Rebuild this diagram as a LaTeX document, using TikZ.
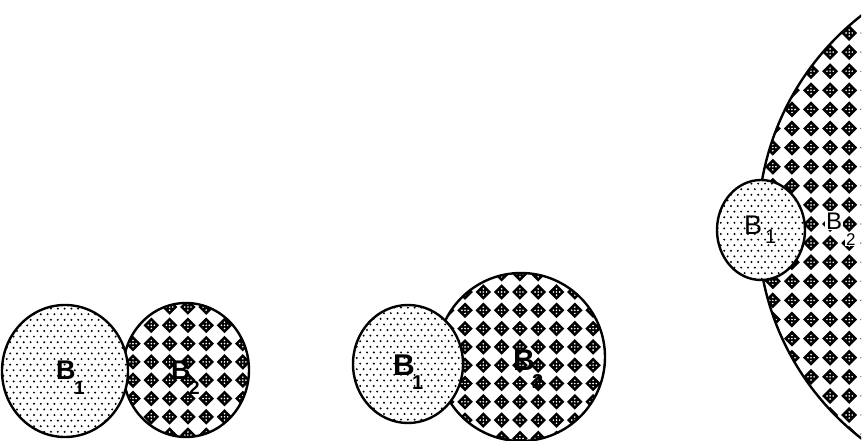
\documentclass[tikz,border=0pt]{standalone}
\usepackage{fontspec}
\setmainfont{Liberation Sans}
\newcommand\dotgrid[4]{%
  \foreach \r in {0,...,#4}{\foreach \c in {0,...,#3}{%
    \fill ({#1+\c*6.8+mod(\r,2)*3.4},{#2+\r*5.6}) circle (1.1);}}}
\newcommand\diagrid[6]{%
  \foreach \r in {0,...,#4}{\foreach \c in {0,...,#3}{%
    \begin{scope}[shift={({#1+\c*#5},{#2+\r*#5})}]
      \fill (-#6,0) -- (0,-#6) -- (#6,0) -- (0,#6) -- cycle;
      \fill[white] (0,0) circle (0.9) (3.1,0) circle (0.9) (-3.1,0) circle (0.9)
                   (0,3.1) circle (0.9) (0,-3.1) circle (0.9);
    \end{scope}}}}
\tikzset{rim/.style={line width=2.4pt},
         bigB/.style={anchor=base west, inner sep=0pt, font=\fontsize{#1}{#1}\selectfont\bfseries},
         subB/.style={anchor=base west, inner sep=0pt, font=\fontsize{#1}{#1}\selectfont\bfseries},
         thinB/.style={anchor=base west, inner sep=1pt, fill=white, font=\fontsize{#1}{#1}\selectfont}}
\begin{document}
\begin{tikzpicture}[x=1pt,y=-1pt]
\useasboundingbox (0,0) rectangle (865,441);
\begin{scope}
\clip (0,0) rectangle (865,441);
% ---------- pair 1 ----------
\begin{scope}
  \clip (186,370) ellipse [x radius=63, y radius=67];
  \diagrid{114.7}{288.7}{8}{9}{18.3}{7.8}
\end{scope}
\draw[rim] (186,370) ellipse [x radius=63, y radius=67];
\fill[white] (65,371) ellipse [x radius=63, y radius=66];
\begin{scope}
  \clip (65,371) ellipse [x radius=63, y radius=66];
  \dotgrid{0}{303}{20}{25}
\end{scope}
\draw[rim] (65,371) ellipse [x radius=63, y radius=66];
\node[bigB=27] (a1) at (56,379) {B};
\node[subB=19] (a1s) at (74,394) {1};
\node[bigB=27] (a2) at (171,379) {B};
\node[subB=19] (a2s) at (189,394) {2};
% ---------- pair 2 ----------
\begin{scope}
  \clip (521,357) circle (84);
  \diagrid{428.4}{255.4}{10}{11}{18.3}{7.8}
\end{scope}
\draw[rim] (521,357) circle (84);
\fill[white] (408,364) ellipse [x radius=55, y radius=59];
\begin{scope}
  \clip (408,364) ellipse [x radius=55, y radius=59];
  \dotgrid{350}{302}{18}{23}
\end{scope}
\draw[rim] (408,364) ellipse [x radius=55, y radius=59];
\node[bigB=30] (b1) at (393,375) {B};
\node[subB=20] (b1s) at (412,389) {1};
\node[bigB=30] (b2) at (513,370) {B};
\node[subB=20] (b2s) at (532,388) {2};
% ---------- pair 3 ----------
\begin{scope}
  \clip (700,0) rectangle (861,441);
  \begin{scope}
    \clip (1026,227) circle (268);
    \diagrid{772.8}{-5.2}{5}{24}{19.1}{8}
  \end{scope}
  \draw[rim] (1026,227) circle (268);
\end{scope}
\fill[white] (761,230) ellipse [x radius=44, y radius=50];
\begin{scope}
  \clip (761,230) ellipse [x radius=44, y radius=50];
  \dotgrid{714}{178}{15}{19}
\end{scope}
\draw[rim] (761,230) ellipse [x radius=44, y radius=50];
\node[thinB=27, fill=none] (c1) at (743,234) {B};
\node[thinB=20, fill=none] (c1s) at (764,243) {1};
\node[thinB=24] (c2) at (825,229) {B};
\node[thinB=17] (c2s) at (845,245) {2};
\end{scope}
\end{tikzpicture}
\end{document}
